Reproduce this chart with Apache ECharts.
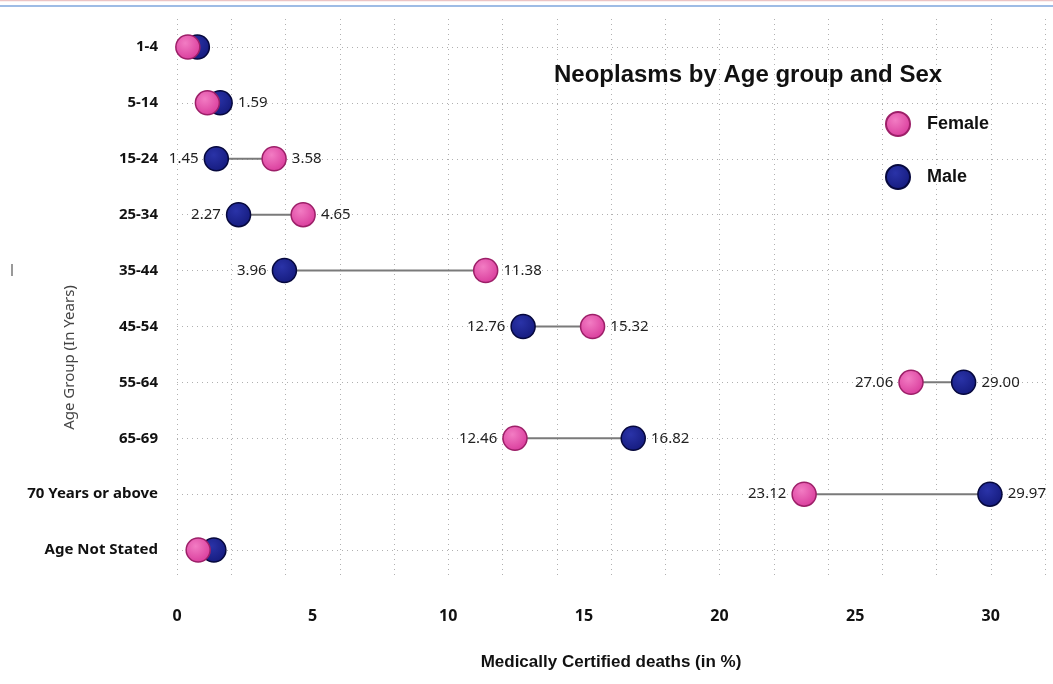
<!DOCTYPE html>
<html>
<head>
<meta charset="utf-8">
<title>Neoplasms by Age group and Sex</title>
<script src="https://cdn.jsdelivr.net/npm/echarts@6/dist/echarts.min.js"></script>
<style>
  html, body { margin: 0; padding: 0; background: #fff; }
  #main { width: 1053px; height: 684px; }
</style>
</head>
<body>
<div id="main"></div>
<script>
// age groups, top to bottom
var ageGroups = ["1-4", "5-14", "15-24", "25-34", "35-44", "45-54", "55-64", "65-69", "70 Years or above", "Age Not Stated"];
// medically certified deaths (in %)
var femaleValues = [0.40, 1.12, 3.58, 4.65, 11.38, 15.32, 27.06, 12.46, 23.12, 0.78];
var maleValues = [0.75, 1.59, 1.45, 2.27, 3.96, 12.76, 29.00, 16.82, 29.97, 1.36];
// rows where the dots overlap and no value is printed
var unlabelledRows = ["1-4", "Age Not Stated"];
// rows where only the larger value is printed
var singleLabelRows = ["5-14"];

var arial = "'Liberation Sans', Arial, sans-serif";

var pinkFill = {
  type: "radial", x: 0.4, y: 0.35, r: 0.7,
  colorStops: [{ offset: 0, color: "#f27cc3" }, { offset: 1, color: "#d8399a" }]
};
var navyFill = {
  type: "radial", x: 0.4, y: 0.35, r: 0.7,
  colorStops: [{ offset: 0, color: "#2a33a8" }, { offset: 1, color: "#141a7c" }]
};

function pointData(own, other) {
  return ageGroups.map(function (g, i) {
    var bigger = own[i] >= other[i];
    var show = unlabelledRows.indexOf(g) < 0 && (singleLabelRows.indexOf(g) < 0 || bigger);
    return {
      value: [own[i], g],
      label: { show: show, position: bigger ? "right" : "left" }
    };
  });
}

var chartDom = document.getElementById("main");
var myChart = echarts.init(chartDom);

// helper axis that puts a dotted line through the middle of every row
var halfSteps = [];
for (var k = 0; k <= ageGroups.length * 2; k++) halfSteps.push(String(k));

var option = {
  animation: false,
  backgroundColor: "#fff",
  title: {
    text: "Neoplasms by Age group and Sex",
    left: 549,
    top: 58,
    textStyle: { fontFamily: arial, fontWeight: "bold", fontSize: 24, color: "#111" }
  },
  legend: {
    orient: "vertical",
    left: 880,
    top: 106,
    itemWidth: 24,
    itemHeight: 24,
    itemGap: 27,
    icon: "circle",
    data: ["Female", "Male"],
    itemStyle: { opacity: 1 },
    textStyle: {
      fontFamily: arial, fontWeight: "bold", fontSize: 18, color: "#111",
      padding: [0, 0, 0, 12]
    }
  },
  grid: { left: 177, right: 8, top: 19, bottom: 106, outerBoundsMode: "none", containLabel: false },
  xAxis: [
    {
      type: "value",
      min: 0,
      max: 32,
      interval: 5,
      name: "Medically Certified deaths (in %)",
      nameLocation: "middle",
      nameGap: 76,
      nameMoveOverlap: false,
      nameTextStyle: { fontFamily: arial, fontWeight: "bold", fontSize: 17, color: "#111" },
      axisLine: { show: false },
      axisTick: { show: false },
      splitLine: { show: false },
      axisLabel: {
        showMaxLabel: false,
        margin: 30,
        fontFamily: "Noto Sans", fontWeight: "bold", fontSize: 16, color: "#111"
      }
    },
    {
      type: "value",
      min: 0,
      max: 32,
      interval: 2,
      position: "top",
      axisLine: { show: false },
      axisTick: { show: false },
      axisLabel: { show: false },
      splitLine: { show: true, lineStyle: { type: [1, 4], color: "#b0b0b0", width: 1 } }
    }
  ],
  yAxis: [
    {
      type: "category",
      inverse: true,
      data: ageGroups,
      name: "Age Group (In Years)",
      nameLocation: "middle",
      nameGap: 100,
      nameMoveOverlap: false,
      nameTextStyle: {
        fontFamily: "Noto Sans", fontSize: 15, color: "#444",
        padding: [0, 118, 0, 0]
      },
      axisLine: { show: false },
      axisTick: { show: false },
      splitLine: { show: false },
      axisLabel: { margin: 19, fontFamily: "Noto Sans", fontWeight: "bold", fontSize: 15, color: "#111" }
    },
    {
      type: "category",
      boundaryGap: false,
      data: halfSteps,
      axisLine: { show: false },
      axisTick: { show: false },
      axisLabel: { show: false },
      splitLine: {
        show: true,
        interval: function (index) { return index % 2 === 1; },
        lineStyle: { type: [1, 4], color: "#b0b0b0", width: 1 }
      }
    }
  ],
  series: [
    {
      name: "link",
      type: "custom",
      silent: true,
      z: 1,
      data: ageGroups.map(function (g, i) { return [femaleValues[i], maleValues[i], i]; }),
      renderItem: function (params, api) {
        var a = api.coord([api.value(0), ageGroups[api.value(2)]]);
        var b = api.coord([api.value(1), ageGroups[api.value(2)]]);
        return {
          type: "line",
          shape: { x1: a[0], y1: a[1], x2: b[0], y2: b[1] },
          style: { stroke: "#7a7a7a", lineWidth: 2 }
        };
      }
    },
    {
      name: "Male",
      type: "scatter",
      z: 3,
      symbolSize: 24,
      itemStyle: { color: navyFill, borderColor: "#06083d", borderWidth: 1.5, opacity: 1 },
      label: {
        formatter: function (p) { return p.value[0].toFixed(2); },
        distance: 5,
        fontFamily: "Noto Sans", fontSize: 15, color: "#222"
      },
      data: pointData(maleValues, femaleValues)
    },
    {
      name: "Female",
      type: "scatter",
      z: 4,
      symbolSize: 24,
      itemStyle: { color: pinkFill, borderColor: "#9c1f68", borderWidth: 1.5, opacity: 1 },
      label: {
        formatter: function (p) { return p.value[0].toFixed(2); },
        distance: 5,
        fontFamily: "Noto Sans", fontSize: 15, color: "#222"
      },
      data: pointData(femaleValues, maleValues)
    }
  ],
  graphic: [
    { type: "line", shape: { x1: 0, y1: 0.5, x2: 1053, y2: 0.5 }, style: { stroke: "#ecc4c4", lineWidth: 1.5 } },
    { type: "line", shape: { x1: 0, y1: 6, x2: 1053, y2: 6 }, style: { stroke: "#7ea6dc", lineWidth: 1.5 } },
    { type: "line", shape: { x1: 12, y1: 264, x2: 12, y2: 276 }, style: { stroke: "#555", lineWidth: 1.2 } }
  ]
};

myChart.setOption(option);
</script>
</body>
</html>
